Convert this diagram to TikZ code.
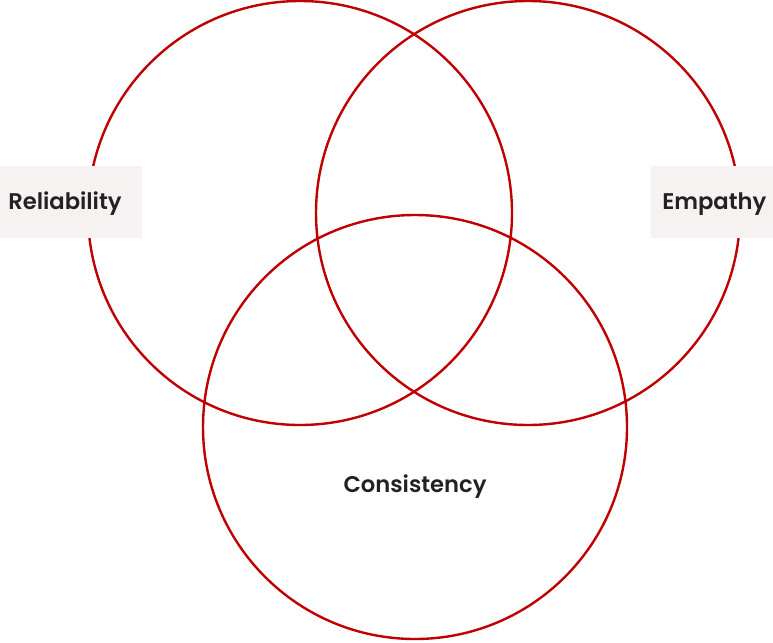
\documentclass[tikz,border=0pt]{standalone}
\usepackage{fontspec}
\setmainfont{Poppins}[BoldFont={Poppins SemiBold}]
\usepackage{tikz}
\usetikzlibrary{positioning}
\definecolor{ringred}{RGB}{192,0,0}
\definecolor{boxfill}{RGB}{246,242,241}
\definecolor{labeltext}{RGB}{34,34,34}

\begin{document}
\begin{tikzpicture}[
  x=0.75pt, y=-0.75pt,
  ring/.style={draw=ringred, line width=1.8pt},
  labelbox/.style={fill=boxfill, anchor=west, minimum height=54pt, align=left, font=\fontsize{17}{20}\selectfont\bfseries, text=labeltext},
  lbl/.style={font=\fontsize{17}{20}\selectfont\bfseries, text=labeltext}
]
  \useasboundingbox (0,0) rectangle (773,642);
  % three overlapping circles
  \draw[ring] (300,213) circle[radius=212];
  \draw[ring] (528,213) circle[radius=212];
  \draw[ring] (415,427) circle[radius=212];

  % labels
  \node[labelbox, inner xsep=6pt, text width=94.5pt, text depth=2pt] (reliability) at (0,202) {Reliability};
  \node[labelbox, inner xsep=8.25pt, text width=75pt, text depth=2pt] (empathy) at (651,202) {Empathy};
  \node[lbl] (consistency) at (415,486.5) {Consistency};
\end{tikzpicture}
\end{document}
